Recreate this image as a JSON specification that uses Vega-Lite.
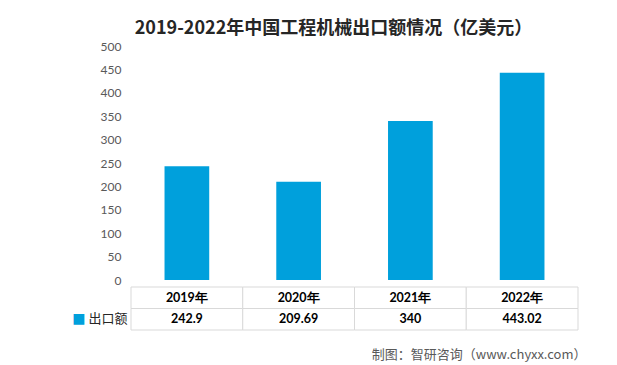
{
  "$schema": "https://vega.github.io/schema/vega-lite/v6.json",
  "padding": {"left": 71, "top": 20, "right": 10, "bottom": 5},
  "config": {"font": "Lato", "view": {"stroke": null}, "concat": {"spacing": 0}},
  "title": {"text": "2019-2022年中国工程机械出口额情况（亿美元）", "fontSize": 18, "font": "Noto Sans CJK SC", "fontWeight": "bold", "color": "#262626", "anchor": "middle", "offset": 2, "dx": 5},
  "datasets": {
    "d": [
      {"year": "2019年", "value": 242.9},
      {"year": "2020年", "value": 209.69},
      {"year": "2021年", "value": 340},
      {"year": "2022年", "value": 443.02}
    ]
  },
  "vconcat": [
    {
      "width": 447,
      "height": 234,
      "data": {"name": "d"},
      "mark": {"type": "bar", "color": "#00A0DC"},
      "encoding": {
        "x": {"field": "year", "type": "nominal", "sort": null, "scale": {"paddingInner": 0.6, "paddingOuter": 0.3}, "axis": null},
        "y": {"field": "value", "type": "quantitative", "scale": {"domain": [0, 500]}, "axis": {"values": [0, 50, 100, 150, 200, 250, 300, 350, 400, 450, 500], "grid": false, "domain": false, "ticks": false, "labelPadding": 10, "labelColor": "#595959", "labelFontSize": 12, "title": null, "minExtent": 60}}
      }
    },
    {
      "width": 447,
      "height": 43,
      "data": {"name": "d"},
      "transform": [{"fold": ["year", "value"], "as": ["row", "cell"]}],
      "encoding": {
        "x": {"field": "year", "type": "nominal", "sort": null, "scale": {"paddingInner": 0, "paddingOuter": 0}, "axis": {"title": "制图：智研咨询（www.chyxx.com）", "titleAnchor": "end", "labels": false, "ticks": false, "domain": false, "titleFontSize": 13, "titleColor": "#595959", "titleFontWeight": "normal", "titleFont": "Noto Sans CJK SC", "titlePadding": 18, "titleX": 455}},
        "y": {"field": "row", "type": "nominal", "scale": {"domain": ["year", "value"], "paddingInner": 0, "paddingOuter": 0}}
      },
      "layer": [
        {
          "mark": {"type": "rect", "fill": "white", "stroke": "#d9d9d9"},
          "encoding": {
            "y": {"field": "row", "type": "nominal", "axis": {"orient": "left", "title": null, "labelExpr": "datum.value == 'value' ? '出口额' : ''", "ticks": false, "domain": false, "labelPadding": 4, "labelFontSize": 13, "labelColor": "#262626", "labelFont": "Noto Sans CJK SC"}}
          }
        },
        {
          "mark": {"type": "text", "fontWeight": "bold", "fontSize": 12.5, "color": "#000000"},
          "encoding": {
            "text": {"field": "cell", "type": "nominal"},
            "y": {"field": "row", "type": "nominal", "axis": {"orient": "left", "title": null, "labelExpr": "datum.value == 'value' ? '■' : ''", "ticks": false, "domain": false, "labelPadding": 46, "labelFontSize": 14, "labelColor": "#00A0DC", "labelFont": "DejaVu Sans"}}
          }
        }
      ],
      "resolve": {"axis": {"y": "independent"}}
    }
  ]
}
